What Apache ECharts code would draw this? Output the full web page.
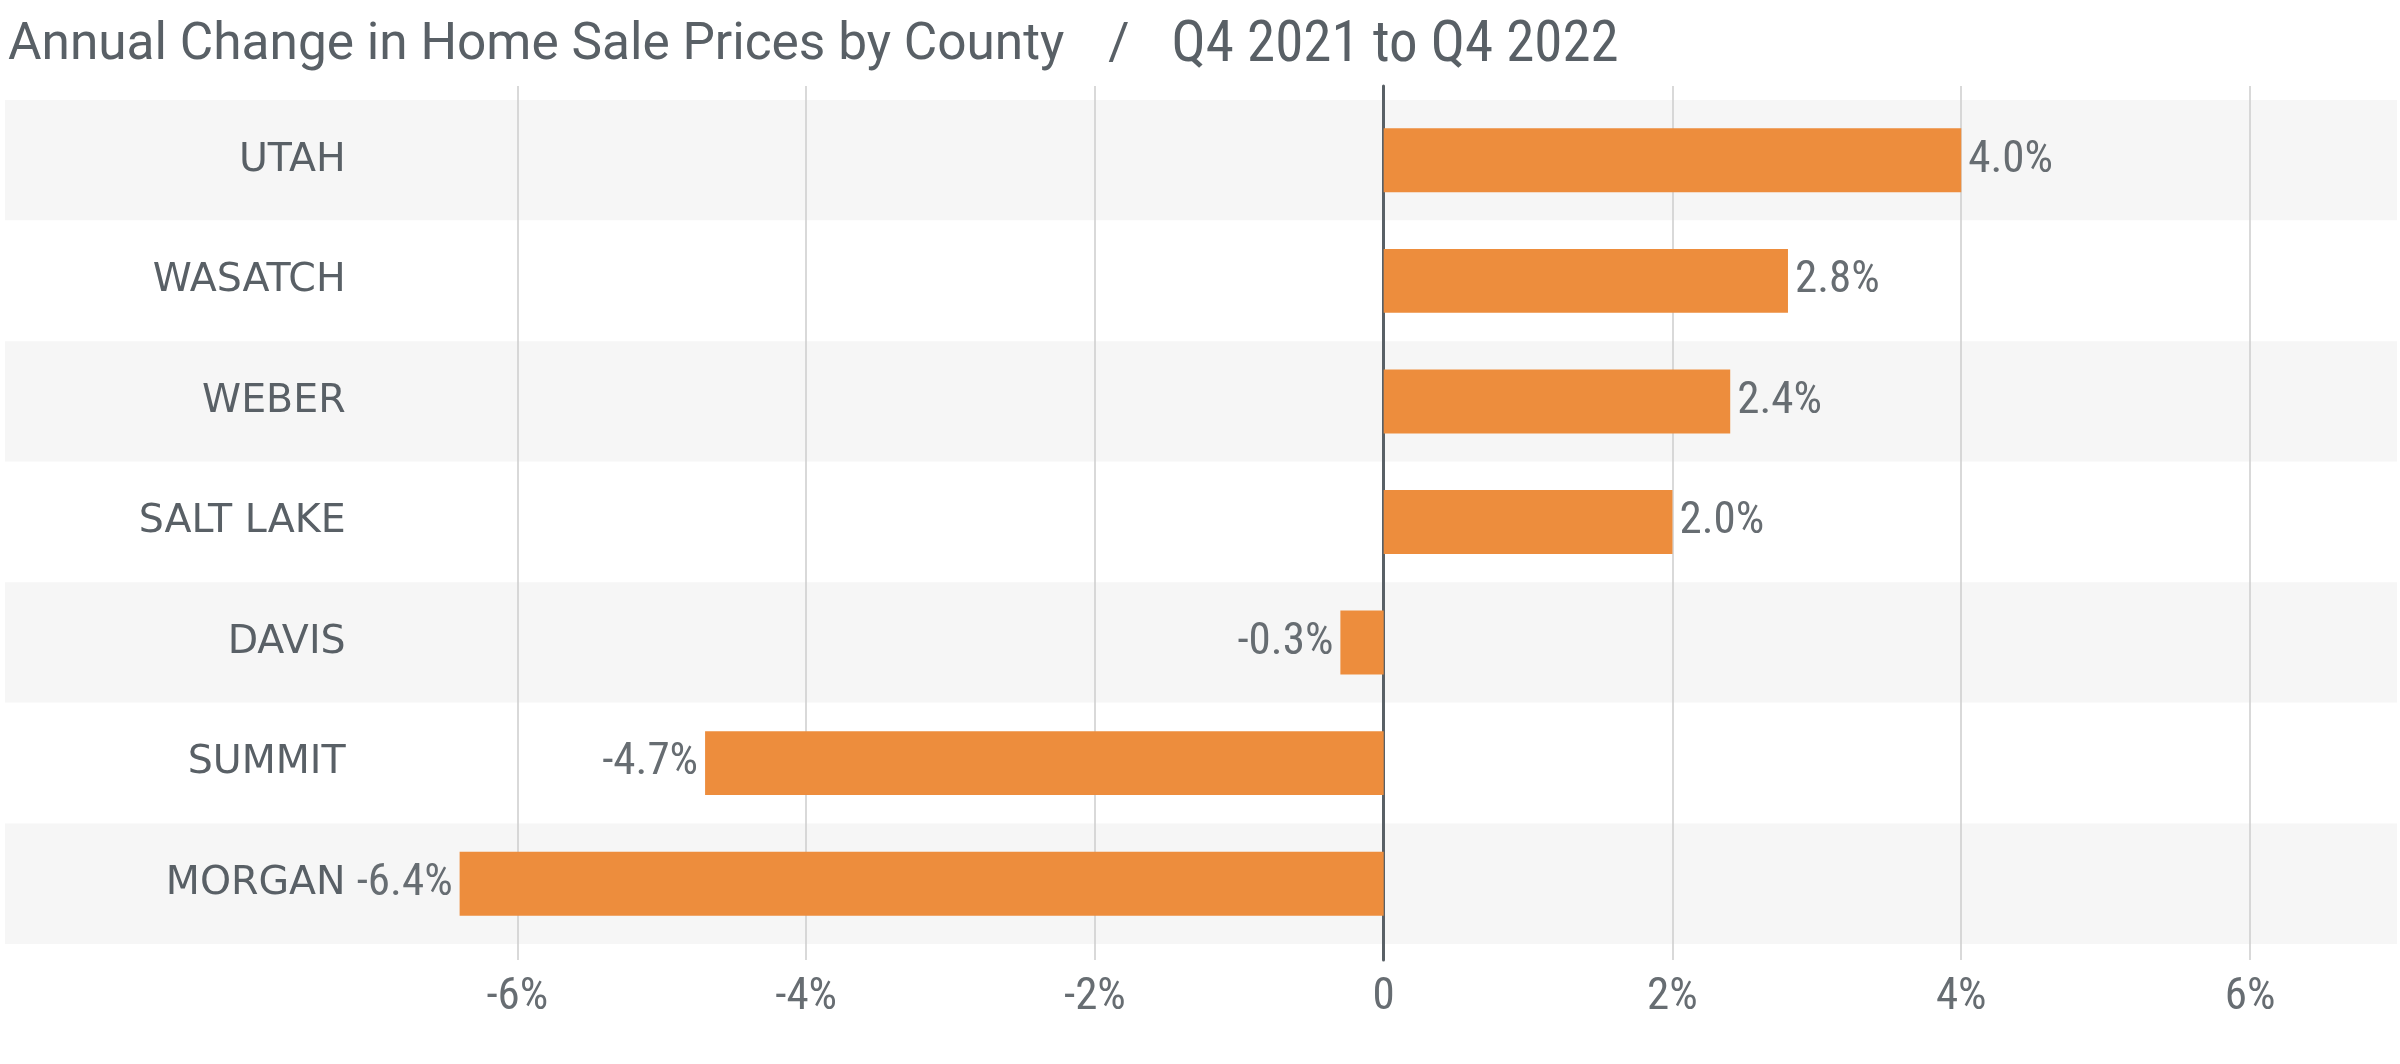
<!DOCTYPE html>
<html>
<head>
<meta charset="utf-8">
<script src="https://cdn.jsdelivr.net/npm/echarts@6/dist/echarts.min.js"></script>
<style>
html,body{margin:0;padding:0;background:#fff;}
#chart{width:2400px;height:1064px;}
</style>
</head>
<body>
<div id="chart"></div>
<script>
const counties = ['UTAH', 'WASATCH', 'WEBER', 'SALT LAKE', 'DAVIS', 'SUMMIT', 'MORGAN'];
const changes = [4.0, 2.8, 2.4, 2.0, -0.3, -4.7, -6.4];
const tickLabels = { '-6': '-6%', '-4': '-4%', '-2': '-2%', '0': '0', '2': '2%', '4': '4%', '6': '6%' };
const titleMain = 'Annual Change in Home Sale Prices by County';
const titleSub = 'Q4 2021 to Q4 2022';

const narrow = "'Roboto Condensed', 'Liberation Sans Narrow', Roboto, sans-serif";
const textGray = '#596066';

const chart = echarts.init(document.getElementById('chart'), null, { renderer: 'canvas' });
const gridL = 228.6, gridR = 5.6;
chart.setOption({
  animation: false,
  backgroundColor: '#ffffff',
  title: {
    left: 3, top: 13,
    text: '{a|' + titleMain + '}{s|/}{b|' + titleSub + '}',
    textStyle: {
      fontWeight: 'normal',
      rich: {
        a: { fontFamily: 'Roboto, sans-serif', fontSize: 51.4, fontWeight: 'normal', color: textGray },
        s: { fontFamily: 'Roboto, sans-serif', fontSize: 51.4, fontWeight: 'normal', color: textGray, padding: [0, 42, 0, 44] },
        b: { fontFamily: narrow, fontSize: 57, fontWeight: 'normal', color: textGray }
      }
    }
  },
  grid: [
    { left: 5, right: 3, top: 100, bottom: 120 },
    { left: gridL, right: gridR, top: 86, bottom: 104 },
    { left: gridL, right: gridR, top: 100, bottom: 120 }
  ],
  xAxis: [
    { gridIndex: 0, type: 'value', min: 0, max: 1, show: false },
    {
      gridIndex: 1, type: 'value', min: -8, max: 7, interval: 2,
      axisLine: { show: false }, axisTick: { show: false },
      splitLine: { show: true, showMinLine: false, showMaxLine: false, lineStyle: { color: '#cccccc', width: 1.5 } },
      axisLabel: {
        margin: 15,
        fontFamily: narrow, fontSize: 45, color: '#676d72',
        formatter: v => (tickLabels[String(v)] !== undefined ? tickLabels[String(v)] : '')
      }
    },
    { gridIndex: 2, type: 'value', min: -8, max: 7, show: false }
  ],
  yAxis: [
    {
      gridIndex: 0, type: 'category', data: counties, inverse: true,
      axisLine: { show: false }, axisTick: { show: false }, axisLabel: { show: false },
      splitArea: { show: true, areaStyle: { color: ['#f6f6f6', '#ffffff'] } }
    },
    {
      gridIndex: 1, type: 'category', data: counties, inverse: true,
      axisLine: { show: true, onZero: true, lineStyle: { color: '#596066', width: 3 } },
      axisTick: { show: false }, axisLabel: { show: false }, splitLine: { show: false }
    },
    {
      gridIndex: 2, type: 'category', data: counties, inverse: true,
      axisLine: { show: false, onZero: false }, axisTick: { show: false },
      axisLabel: {
        margin: -117, align: 'right', padding: [14, 0, 0, 0],
        fontFamily: "'DejaVu Sans', sans-serif", fontSize: 39.5, color: textGray
      }
    }
  ],
  series: [{
    type: 'bar',
    xAxisIndex: 2, yAxisIndex: 2,
    data: changes.map(v => v < 0 ? { value: v, label: { position: 'left' } } : v),
    barCategoryGap: '47%',
    itemStyle: { color: '#ed8d3d' },
    label: {
      show: true,
      position: 'right',
      distance: 7,
      padding: [10, 0, 0, 0],
      fontFamily: narrow, fontSize: 45, color: '#676d72',
      formatter: p => p.value.toFixed(1) + '%'
    }
  }]
});
</script>
</body>
</html>
